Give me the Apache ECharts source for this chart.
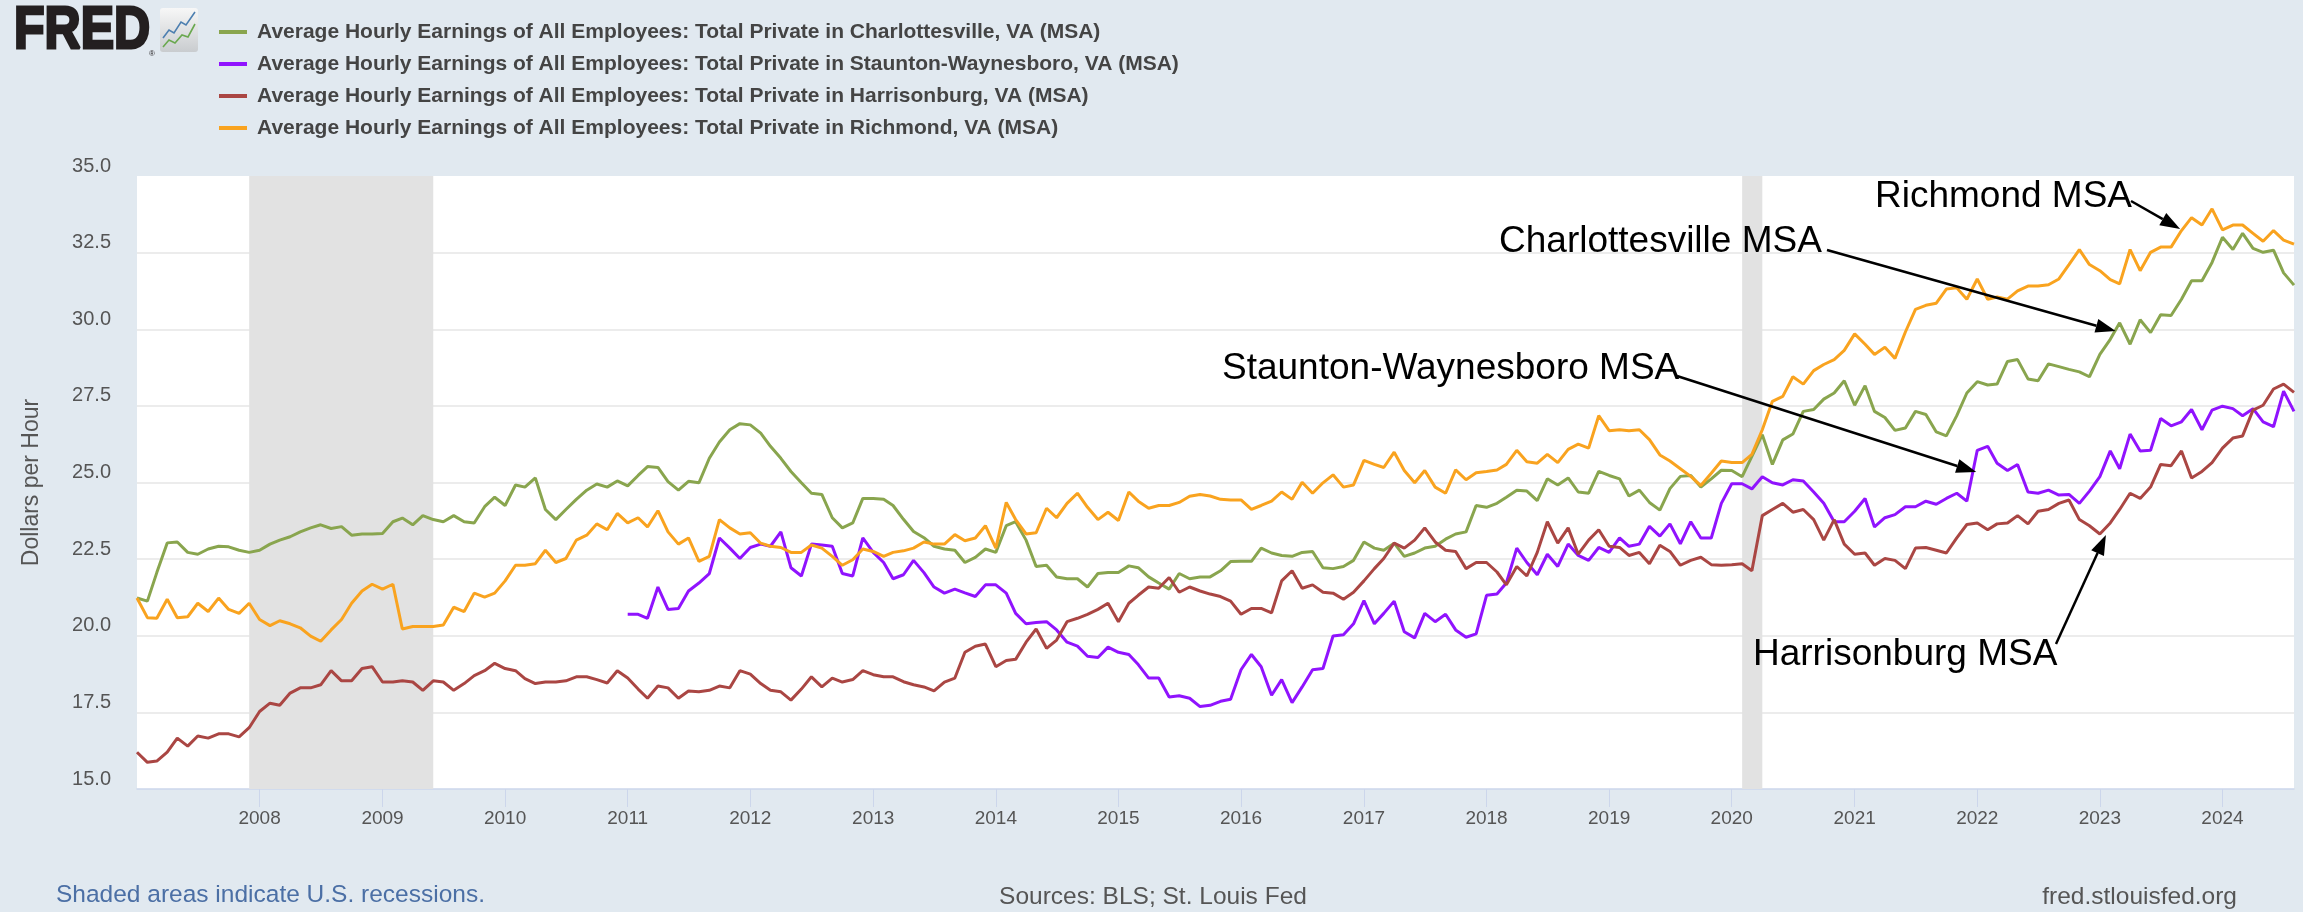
<!DOCTYPE html>
<html>
<head>
<meta charset="utf-8">
<title>Average Hourly Earnings - Virginia MSAs</title>
<script src="https://cdn.jsdelivr.net/npm/echarts@6/dist/echarts.min.js"></script>
<style>
  html, body { margin: 0; padding: 0; background: #e1e9f0; }
  #chart { width: 2303px; height: 912px; }
</style>
</head>
<body>
<div id="chart"></div>
<script>
// monthly values, first one is Jan 2007 (Staunton starts Jan 2011)
var startYear = 2007;
var stauntonOffset = 48;

var charlottesville = [
  21.23, 21.13, 22.06, 23.03, 23.06, 22.72, 22.66, 22.83, 22.92, 22.9, 22.79, 22.72,
  22.79, 22.99, 23.12, 23.23, 23.39, 23.52, 23.62, 23.5, 23.56, 23.28, 23.32, 23.32,
  23.34, 23.72, 23.84, 23.62, 23.92, 23.79, 23.72, 23.92, 23.72, 23.68, 24.21, 24.52,
  24.25, 24.92, 24.85, 25.15, 24.12, 23.79, 24.12, 24.45, 24.75, 24.95, 24.85, 25.05,
  24.89, 25.23, 25.52, 25.49, 25.03, 24.75, 25.04, 24.99, 25.79, 26.32, 26.72, 26.92,
  26.88, 26.61, 26.18, 25.79, 25.36, 24.99, 24.65, 24.61, 23.85, 23.52, 23.68, 24.48,
  24.48, 24.45, 24.25, 23.8, 23.4, 23.2, 22.92, 22.83, 22.79, 22.39, 22.56, 22.83,
  22.72, 23.59, 23.72, 23.12, 22.26, 22.3, 21.92, 21.86, 21.86, 21.59, 22.03, 22.06,
  22.06, 22.28, 22.22, 21.92, 21.72, 21.52, 22.03, 21.86, 21.92, 21.92, 22.12, 22.42,
  22.43, 22.43, 22.86, 22.7, 22.62, 22.59, 22.72, 22.75, 22.22, 22.19, 22.26, 22.46,
  23.06, 22.86, 22.79, 23.02, 22.59, 22.7, 22.86, 22.92, 23.15, 23.32, 23.39, 24.25,
  24.19, 24.32, 24.52, 24.75, 24.72, 24.41, 25.12, 24.92, 25.15, 24.69, 24.65, 25.36,
  25.23, 25.12, 24.56, 24.75, 24.35, 24.1, 24.8, 25.2, 25.23, 24.85, 25.12, 25.4,
  25.39, 25.19, 25.85, 26.56, 25.59, 26.39, 26.58, 27.32, 27.38, 27.72, 27.92, 28.32,
  27.52, 28.16, 27.32, 27.12, 26.7, 26.78, 27.32, 27.22, 26.65, 26.52, 27.18, 27.92,
  28.29, 28.18, 28.21, 28.95, 29.01, 28.38, 28.32, 28.87, 28.78, 28.69, 28.61, 28.45,
  29.18, 29.67, 30.21, 29.51, 30.31, 29.89, 30.47, 30.45, 30.98, 31.58, 31.58, 32.18,
  33.0, 32.6, 33.13, 32.64, 32.51, 32.58, 31.84, 31.44
];

var staunton = [
  20.7, 20.7, 20.57, 21.59, 20.86, 20.89, 21.46, 21.72, 22.03, 23.19, 22.86, 22.52,
  22.88, 22.99, 22.92, 23.39, 22.22, 21.95, 22.99, 22.96, 22.92, 22.03, 21.95, 23.19,
  22.72, 22.39, 21.86, 21.99, 22.46, 22.06, 21.59, 21.39, 21.52, 21.4, 21.28, 21.66,
  21.66, 21.39, 20.73, 20.39, 20.43, 20.46, 20.19, 19.79, 19.66, 19.33, 19.29, 19.63,
  19.46, 19.39, 19.06, 18.62, 18.62, 18.0, 18.04, 17.96, 17.69, 17.73, 17.86, 17.93,
  18.89, 19.39, 18.99, 18.06, 18.57, 17.82, 18.33, 18.89, 18.93, 19.99, 20.03, 20.39,
  21.15, 20.39, 20.73, 21.13, 20.13, 19.93, 20.73, 20.46, 20.7, 20.19, 19.95, 20.06,
  21.32, 21.36, 21.72, 22.86, 22.39, 21.99, 22.66, 22.26, 22.99, 22.62, 22.46, 22.88,
  22.72, 23.19, 22.92, 22.99, 23.57, 23.25, 23.65, 23.0, 23.72, 23.19, 23.19, 24.32,
  24.96, 24.96, 24.79, 25.19, 24.99, 24.92, 25.09, 25.05, 24.69, 24.32, 23.72, 23.72,
  24.06, 24.48, 23.55, 23.85, 23.95, 24.21, 24.21, 24.39, 24.29, 24.48, 24.65, 24.39,
  26.05, 26.18, 25.63, 25.39, 25.59, 24.69, 24.65, 24.75, 24.59, 24.61, 24.32, 24.72,
  25.19, 26.03, 25.45, 26.58, 26.03, 26.05, 27.09, 26.85, 26.98, 27.38, 26.72, 27.36,
  27.49, 27.41, 27.18, 27.41, 26.98, 26.82, 27.98, 27.32
];

var harrisonburg = [
  16.2, 15.87, 15.91, 16.2, 16.66, 16.4, 16.73, 16.66, 16.8, 16.8, 16.7, 17.0,
  17.53, 17.8, 17.73, 18.13, 18.3, 18.3, 18.4, 18.86, 18.53, 18.53, 18.93, 18.99,
  18.49, 18.49, 18.53, 18.49, 18.22, 18.53, 18.49, 18.22, 18.44, 18.7, 18.86, 19.1,
  18.93, 18.86, 18.6, 18.44, 18.49, 18.49, 18.53, 18.66, 18.66, 18.57, 18.46, 18.86,
  18.62, 18.26, 17.96, 18.36, 18.3, 17.96, 18.2, 18.17, 18.22, 18.36, 18.3, 18.86,
  18.75, 18.44, 18.22, 18.17, 17.9, 18.26, 18.66, 18.33, 18.62, 18.49, 18.57, 18.86,
  18.73, 18.66, 18.66, 18.5, 18.4, 18.33, 18.2, 18.49, 18.62, 19.46, 19.66, 19.73,
  18.99, 19.19, 19.23, 19.79, 20.22, 19.59, 19.86, 20.46, 20.57, 20.7, 20.86, 21.06,
  20.46, 21.06, 21.32, 21.59, 21.55, 21.9, 21.42, 21.59, 21.46, 21.36, 21.28, 21.13,
  20.7, 20.89, 20.89, 20.75, 21.79, 22.12, 21.55, 21.66, 21.42, 21.39, 21.19, 21.42,
  21.79, 22.19, 22.52, 23.02, 22.86, 23.12, 23.52, 23.06, 22.79, 22.75, 22.19, 22.39,
  22.39, 22.08, 21.66, 22.26, 21.95, 22.72, 23.72, 23.02, 23.52, 22.66, 23.12, 23.46,
  22.92, 22.88, 22.62, 22.72, 22.35, 22.95, 22.75, 22.3, 22.46, 22.56, 22.32, 22.3,
  22.32, 22.35, 22.12, 23.92, 24.12, 24.32, 24.03, 24.12, 23.79, 23.12, 23.79, 22.99,
  22.66, 22.7, 22.3, 22.52, 22.46, 22.19, 22.86, 22.88, 22.79, 22.7, 23.19, 23.63,
  23.68, 23.46, 23.65, 23.68, 23.92, 23.65, 24.06, 24.12, 24.32, 24.43, 23.79, 23.59,
  23.32, 23.68, 24.12, 24.65, 24.48, 24.85, 25.59, 25.55, 26.03, 25.15, 25.36, 25.65,
  26.12, 26.45, 26.52, 27.36, 27.52, 28.05, 28.21, 27.94
];

var richmond = [
  21.23, 20.59, 20.57, 21.19, 20.59, 20.62, 21.06, 20.79, 21.23, 20.86, 20.73, 21.06,
  20.53, 20.33, 20.49, 20.39, 20.26, 19.99, 19.82, 20.19, 20.53, 21.06, 21.46, 21.68,
  21.52, 21.68, 20.22, 20.3, 20.3, 20.3, 20.35, 20.93, 20.79, 21.39, 21.26, 21.39,
  21.79, 22.3, 22.3, 22.35, 22.79, 22.39, 22.52, 23.12, 23.28, 23.65, 23.46, 23.99,
  23.68, 23.85, 23.55, 24.08, 23.39, 22.99, 23.19, 22.43, 22.59, 23.79, 23.52, 23.32,
  23.36, 23.02, 22.92, 22.88, 22.72, 22.72, 22.96, 22.86, 22.59, 22.3, 22.48, 22.83,
  22.75, 22.59, 22.72, 22.77, 22.86, 23.06, 22.99, 22.99, 23.3, 23.1, 23.19, 23.59,
  22.86, 24.35, 23.79, 23.32, 23.36, 24.16, 23.85, 24.32, 24.65, 24.19, 23.79, 24.03,
  23.76, 24.69, 24.39, 24.16, 24.25, 24.25, 24.35, 24.55, 24.61, 24.56, 24.45, 24.43,
  24.43, 24.12, 24.25, 24.39, 24.69, 24.45, 25.01, 24.65, 24.99, 25.25, 24.85, 24.92,
  25.72, 25.59, 25.49, 25.99, 25.39, 24.99, 25.39, 24.85, 24.65, 25.41, 25.09, 25.32,
  25.36, 25.41, 25.59, 26.05, 25.68, 25.63, 25.92, 25.65, 26.08, 26.25, 26.12, 27.18,
  26.69, 26.72, 26.69, 26.72, 26.4, 25.9, 25.7, 25.45, 25.2, 24.9, 25.3, 25.7,
  25.65, 25.65, 25.92, 26.72, 27.65, 27.81, 28.45, 28.21, 28.65, 28.85, 29.01, 29.31,
  29.85, 29.51, 29.18, 29.41, 29.05, 29.91, 30.65, 30.78, 30.85, 31.31, 31.35, 30.98,
  31.64, 30.98, 31.05, 30.98, 31.25, 31.41, 31.41, 31.45, 31.64, 32.11, 32.6, 32.11,
  31.91, 31.62, 31.48, 32.6, 31.91, 32.51, 32.68, 32.68, 33.22, 33.64, 33.4, 33.93,
  33.24, 33.4, 33.4, 33.13, 32.87, 33.22, 32.91, 32.78
];

var seriesNames = [
  "Average Hourly Earnings of All Employees: Total Private in Charlottesville, VA (MSA)",
  "Average Hourly Earnings of All Employees: Total Private in Staunton-Waynesboro, VA (MSA)",
  "Average Hourly Earnings of All Employees: Total Private in Harrisonburg, VA (MSA)",
  "Average Hourly Earnings of All Employees: Total Private in Richmond, VA (MSA)"
];
var seriesColors = ["#89a54e", "#9013fe", "#aa4643", "#f9a31f"];

// recession periods (peak, trough)
var recessions = [
  ["2007-12-01", "2009-06-01"],
  ["2020-02-01", "2020-04-01"]
];

// hand drawn labels; tip is the point on the line the arrow touches
var notes = [
  { text: "Richmond MSA", x: 1875, y: 197, from: [2131, 201], tip: [new Date(2023, 7, 28), 33.27] },
  { text: "Charlottesville MSA", x: 1499, y: 242, from: [1827, 250], tip: [new Date(2023, 1, 17), 29.94] },
  { text: "Staunton-Waynesboro MSA", x: 1222, y: 369, from: [1677, 376], tip: [new Date(2021, 11, 29), 25.34] },
  { text: "Harrisonburg MSA", x: 1753, y: 655, from: [2056, 644], tip: [new Date(2023, 0, 19), 23.29] }
];

var font = "Liberation Sans, Arial, Helvetica, sans-serif";

function monthTime(i) {
  return new Date(startYear, i, 1).getTime();
}
function toPairs(values, offset) {
  return values.map(function (v, i) { return [monthTime(i + offset), v]; });
}
function parseDay(s) {
  var p = s.split("-");
  return new Date(+p[0], +p[1] - 1, +p[2]).getTime();
}

var myChart = echarts.init(document.getElementById("chart"), null, { renderer: "canvas" });

var lineData = [
  toPairs(charlottesville, 0),
  toPairs(staunton, stauntonOffset),
  toPairs(harrisonburg, 0),
  toPairs(richmond, 0)
];

var series = [{
  name: "recessions",
  type: "line",
  data: [],
  z: 1,
  silent: true,
  markArea: {
    silent: true,
    itemStyle: { color: "#e2e2e2" },
    data: recessions.map(function (r) {
      return [{ xAxis: parseDay(r[0]) }, { xAxis: parseDay(r[1]) }];
    })
  }
}];
lineData.forEach(function (d, i) {
  series.push({
    name: seriesNames[i],
    type: "line",
    data: d,
    z: 3,
    showSymbol: false,
    symbol: "none",
    color: seriesColors[i],
    lineStyle: { color: seriesColors[i], width: 3 },
    itemStyle: { color: seriesColors[i] }
  });
});

var option = {
  backgroundColor: "#e1e9f0",
  animation: false,
  textStyle: { fontFamily: font },
  legend: {
    data: seriesNames,
    orient: "vertical",
    left: 214,
    top: 15,
    icon: "rect",
    itemWidth: 28,
    itemHeight: 4,
    itemGap: 8,
    selectedMode: false,
    textStyle: {
      fontFamily: font,
      fontSize: 21,
      fontWeight: "bold",
      color: "#444",
      lineHeight: 24,
      padding: [0, 0, 0, 5]
    }
  },
  grid: {
    left: 137,
    right: 9,
    top: 176,
    bottom: 123,
    show: true,
    backgroundColor: "#ffffff",
    borderWidth: 0,
    containLabel: false,
    outerBoundsMode: "none"
  },
  xAxis: {
    type: "time",
    min: new Date(startYear, 0, 1, 1).getTime(),
    max: monthTime(charlottesville.length - 1),
    minInterval: 365 * 24 * 3600 * 1000,
    maxInterval: 366 * 24 * 3600 * 1000,
    splitNumber: 18,
    axisLine: { lineStyle: { color: "#ccd6eb", width: 1.5 } },
    axisTick: { show: true, length: 18, lineStyle: { color: "#ccd6eb", width: 1 } },
    axisLabel: {
      formatter: "{yyyy}",
      fontSize: 19,
      color: "#555",
      margin: 20,
      showMinLabel: false,
      showMaxLabel: false
    },
    splitLine: { show: false }
  },
  yAxis: {
    type: "value",
    min: 15,
    max: 35,
    interval: 2.5,
    name: "Dollars per Hour",
    nameLocation: "middle",
    nameGap: 94,
    nameTextStyle: { fontSize: 23, color: "#555", fontFamily: font },
    axisLine: { show: false },
    axisTick: { show: false },
    axisLabel: {
      fontSize: 20,
      color: "#555",
      margin: 26,
      verticalAlign: "bottom",
      formatter: function (v) { return v.toFixed(1); }
    },
    splitLine: {
      lineStyle: { color: "#e6e6e6", width: 1.5 },
      showMaxLine: false,
      showMinLine: false
    }
  },
  series: series
};

myChart.setOption(option);

// logo, footer and the arrows
var graphics = [
  {
    type: "text", x: 14, y: 31, scaleY: 1.2,
    style: { text: "FRED", x: 0, y: 0, verticalAlign: "middle", font: "bold 50px " + font, fill: "#231f20", stroke: "#231f20", lineWidth: 2.5 }
  },
  {
    type: "text", x: 149, y: 50,
    style: { text: "®", font: "8px " + font, fill: "#231f20" }
  },
  {
    type: "rect", shape: { x: 160, y: 8, width: 38, height: 44, r: 3 },
    style: {
      fill: new echarts.graphic.LinearGradient(0, 0, 0, 1, [
        { offset: 0, color: "#f7f7f7" }, { offset: 1, color: "#c9cccf" }
      ])
    }
  },
  {
    type: "polyline",
    shape: { points: [[163, 38], [169, 30], [174, 33], [181, 22], [186, 25], [195, 12]] },
    style: { stroke: "#4d7fb0", lineWidth: 1.6, fill: null }
  },
  {
    type: "polyline",
    shape: { points: [[163, 47], [169, 40], [175, 43], [182, 35], [188, 37], [195, 24]] },
    style: { stroke: "#6aa84f", lineWidth: 1.6, fill: null }
  },
  {
    type: "text", x: 56, y: 895,
    style: { text: "Shaded areas indicate U.S. recessions.", verticalAlign: "middle", font: "24.5px " + font, fill: "#4b6fa5" }
  },
  {
    type: "text", x: 1153, y: 897,
    style: { text: "Sources: BLS; St. Louis Fed", align: "center", verticalAlign: "middle", font: "24.5px " + font, fill: "#555" }
  },
  {
    type: "text", x: 2237, y: 897,
    style: { text: "fred.stlouisfed.org", align: "right", verticalAlign: "middle", font: "24.5px " + font, fill: "#555" }
  }
];

notes.forEach(function (n) {
  graphics.push({
    type: "text", x: n.x, y: n.y, z: 10,
    style: { text: n.text, verticalAlign: "middle", font: "37px " + font, fill: "#000" }
  });
  var tip = myChart.convertToPixel({ gridIndex: 0 }, [n.tip[0].getTime(), n.tip[1]]);
  var dx = tip[0] - n.from[0], dy = tip[1] - n.from[1];
  var len = Math.sqrt(dx * dx + dy * dy);
  var ux = dx / len, uy = dy / len;
  var headLen = 20, headW = 7;
  var bx = tip[0] - ux * headLen, by = tip[1] - uy * headLen;
  graphics.push({
    type: "line", z: 10,
    shape: { x1: n.from[0], y1: n.from[1], x2: bx, y2: by },
    style: { stroke: "#000", lineWidth: 2.5 }
  });
  graphics.push({
    type: "polygon", z: 10,
    shape: { points: [[tip[0], tip[1]], [bx - uy * headW, by + ux * headW], [bx + uy * headW, by - ux * headW]] },
    style: { fill: "#000" }
  });
});

myChart.setOption({ graphic: graphics });
</script>
</body>
</html>
